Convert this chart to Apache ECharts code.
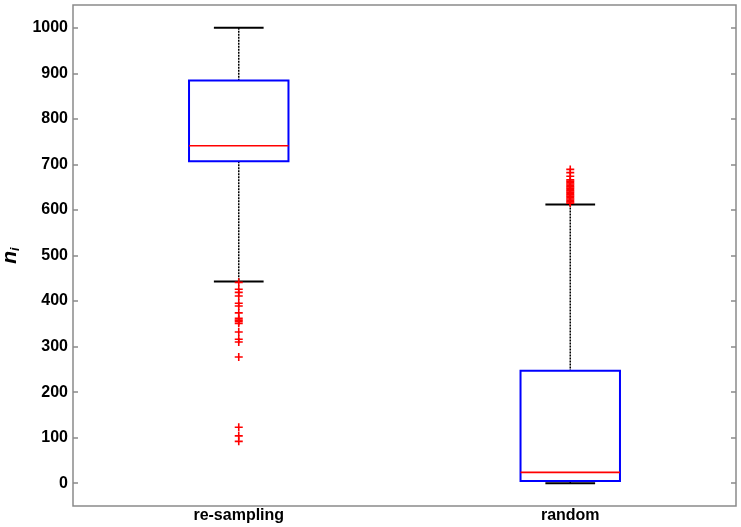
<!DOCTYPE html>
<html>
<head>
<meta charset="utf-8">
<script src="https://cdn.jsdelivr.net/npm/echarts@6/dist/echarts.min.js"></script>
<style>html,body{margin:0;padding:0;background:#fff;}#c{width:741px;height:527px;}</style>
</head>
<body>
<div id="c"></div>
<script>
const categories = ['re-sampling', 'random'];
const lowerWhisker = [443, 0];
const q1 = [707, 5];
const median = [741, 24];
const q3 = [884, 247];
const upperWhisker = [1000, 612];
const outliersResampling = [441, 426, 419, 411, 395, 389, 374, 362, 358, 355, 351, 332, 316, 310, 277, 123, 104, 92];
const outliersRandom = [615, 618, 621, 624, 627, 630, 633, 636, 639, 642, 645, 648, 651, 654, 657, 660, 663, 666, 674, 682, 689];
const yTicks = [0, 100, 200, 300, 400, 500, 600, 700, 800, 900, 1000];

const boxData = categories.map((c, k) => [k, lowerWhisker[k], q1[k], median[k], q3[k], upperWhisker[k]]);
const outlierData = outliersResampling.map(v => [0, v]).concat(outliersRandom.map(v => [1, v]));

const plusPath = 'path://M4,0h2v4h4v2h-4v4h-2v-4h-4v-2h4z';

function renderItem(params, api) {
  const k = api.value(0);
  const pLw = api.coord([k, api.value(1)]);
  const pQ1 = api.coord([k, api.value(2)]);
  const pMed = api.coord([k, api.value(3)]);
  const pQ3 = api.coord([k, api.value(4)]);
  const pUw = api.coord([k, api.value(5)]);
  const band = api.size([1, 0])[0];
  const bw = band * 0.3;
  const cw = band * 0.15;
  const x = pMed[0];
  const dash = {stroke: '#000', lineWidth: 1.5, lineDash: [2, 1]};
  const cap = {stroke: '#000', lineWidth: 2};
  return {
    type: 'group',
    children: [
      {type: 'line', shape: {x1: x, y1: pUw[1], x2: x, y2: pQ3[1]}, style: dash},
      {type: 'line', shape: {x1: x, y1: pQ1[1], x2: x, y2: pLw[1]}, style: dash},
      {type: 'line', shape: {x1: x - cw / 2, y1: pUw[1], x2: x + cw / 2, y2: pUw[1]}, style: cap},
      {type: 'line', shape: {x1: x - cw / 2, y1: pLw[1], x2: x + cw / 2, y2: pLw[1]}, style: cap},
      {type: 'rect', shape: {x: x - bw / 2, y: pQ3[1], width: bw, height: pQ1[1] - pQ3[1]}, style: {fill: 'none', stroke: '#0000ff', lineWidth: 2}},
      {type: 'line', shape: {x1: x - bw / 2, y1: pMed[1], x2: x + bw / 2, y2: pMed[1]}, style: {stroke: '#ff0000', lineWidth: 1.7}}
    ]
  };
}

const chart = echarts.init(document.getElementById('c'), null, {renderer: 'canvas'});
const axisGray = '#8a8a8a';
const labelFont = {fontFamily: 'Liberation Sans, Arial, sans-serif', fontWeight: 'bold', fontSize: 16, color: '#000'};
chart.setOption({
  animation: false,
  backgroundColor: '#fff',
  grid: {left: 73, right: 5, top: 5, bottom: 21, show: true, borderColor: axisGray, borderWidth: 1.5, backgroundColor: '#fff', containLabel: false, outerBoundsMode: 'none'},
  xAxis: {
    type: 'category',
    data: categories,
    boundaryGap: true,
    axisLine: {show: false},
    axisTick: {show: false},
    splitLine: {show: false},
    axisLabel: Object.assign({margin: 2}, labelFont)
  },
  yAxis: [{
    type: 'value',
    min: -50,
    max: 1050,
    position: 'left',
    axisLine: {show: false},
    axisTick: {show: true, inside: true, length: 5, customValues: yTicks, lineStyle: {color: axisGray, width: 1.5}},
    axisLabel: Object.assign({margin: 5, customValues: yTicks, formatter: v => String(v)}, labelFont),
    splitLine: {show: false},
    name: '{n|n}{i|i}',
    nameLocation: 'middle',
    nameRotate: 90,
    nameGap: 39,
    nameTextStyle: {
      rich: {
        n: {fontFamily: 'Liberation Sans, Arial, sans-serif', fontWeight: 'bold', fontStyle: 'italic', fontSize: 21, color: '#000'},
        i: {fontFamily: 'Liberation Sans, Arial, sans-serif', fontWeight: 'bold', fontStyle: 'italic', fontSize: 13, color: '#000', verticalAlign: 'bottom', padding: [10, 0, 0, 0]}
      }
    }
  }, {
    type: 'value',
    min: -50,
    max: 1050,
    position: 'right',
    axisLine: {show: false},
    axisTick: {show: true, inside: true, length: 5, customValues: yTicks, lineStyle: {color: axisGray, width: 1.5}},
    axisLabel: {show: false},
    splitLine: {show: false}
  }],
  series: [{
    type: 'custom',
    renderItem: renderItem,
    data: boxData,
    encode: {x: 0, y: [1, 2, 3, 4, 5]},
    z: 2
  }, {
    type: 'scatter',
    data: outlierData,
    symbol: plusPath,
    symbolSize: 8,
    itemStyle: {color: '#ff0000', opacity: 1},
    z: 3
  }]
});
</script>
</body>
</html>
